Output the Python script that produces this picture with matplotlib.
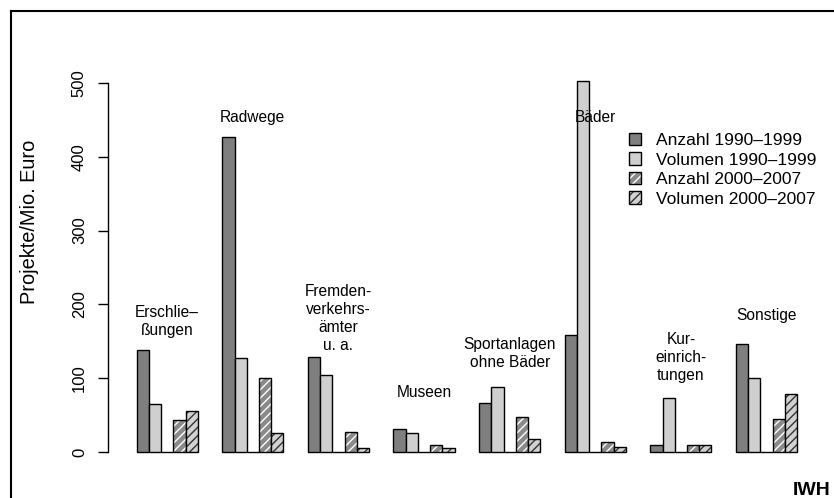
import numpy as np
import matplotlib
matplotlib.use("Agg")
import matplotlib.pyplot as plt
from matplotlib.lines import Line2D
from matplotlib.legend_handler import HandlerTuple

plt.rcParams['font.family'] = ['Liberation Sans', 'DejaVu Sans']
plt.rcParams['hatch.linewidth'] = 1.0

# Daten
kategorien = ["Erschlie\u2013\n\u00dfungen", "Radwege", "Fremden-\nverkehrs-\n\u00e4mter\nu. a.",
              "Museen", "Sportanlagen\nohne B\u00e4der", "B\u00e4der", "Kur-\neinrich-\ntungen", "Sonstige"]
anzahl_90 = [138, 427, 129, 31, 67, 158, 9, 146]
volumen_90 = [65, 128, 104, 26, 88, 503, 73, 100]
anzahl_00 = [44, 100, 27, 9, 47, 13, 9, 45]
volumen_00 = [56, 26, 6, 5, 17, 7, 10, 78]
reihen = ["Anzahl 1990\u20131999", "Volumen 1990\u20131999",
          "Anzahl 2000\u20132007", "Volumen 2000\u20132007"]

W, H = 834, 498
fig = plt.figure(figsize=(W / 100, H / 100), dpi=100)

# Plotbereich in Pixeln
px_l, px_r, px_t, px_b = 108, 820, 20, 470
ax = fig.add_axes([px_l / W, 1 - px_b / H, (px_r - px_l) / W, (px_b - px_t) / H])

unit = 12.23   # px pro Balken
x0 = 112.2     # px von x=0
ppu = 0.738    # px pro Einheit y
y0 = 452       # px von y=0
ax.set_xlim((px_l - x0) / unit, (px_r - x0) / unit)
ax.set_ylim(-(px_b - y0) / ppu, (y0 - px_t) / ppu)

n = len(kategorien)
start = 2 + 7 * np.arange(n)
kw = dict(width=1, align='edge')

b1 = ax.bar(start, anzahl_90, color='#7f7f7f', edgecolor='black', linewidth=1, **kw)
b2 = ax.bar(start + 1, volumen_90, color='#cfcfcf', edgecolor='black', linewidth=1, **kw)
ax.bar(start + 2, np.zeros(n), color='white', edgecolor='black', linewidth=1, **kw)

with plt.rc_context({'hatch.color': 'white'}):
    b3 = ax.bar(start + 3, anzahl_00, color='#8a8a8a', hatch='////', **kw)
o3 = ax.bar(start + 3, anzahl_00, fill=False, edgecolor='black', linewidth=1, **kw)
with plt.rc_context({'hatch.color': '#333333'}):
    b4 = ax.bar(start + 4, volumen_00, color='#d2d2d2', hatch='////', **kw)
o4 = ax.bar(start + 4, volumen_00, fill=False, edgecolor='black', linewidth=1, **kw)

# Beschriftung der Gruppen
label_y = [154, 443, 134, 70, 111, 443, 93, 175]
for xs, name, ly in zip(start, kategorien, label_y):
    ax.text(xs + 2.5, ly, name, ha='center', va='bottom', fontsize=11.2, linespacing=1.25)

# Achsen
for s in ['top', 'right', 'bottom']:
    ax.spines[s].set_visible(False)
ax.spines['left'].set_bounds(0, 500)
ax.spines['left'].set_linewidth(1)
ax.set_xticks([])
ax.set_yticks(np.arange(0, 501, 100))
ax.set_yticklabels([str(v) for v in range(0, 501, 100)], rotation=90, va='center', fontsize=12)
ax.tick_params(axis='y', length=7.2, width=1, pad=8)

fig.text(30 / W, 1 - 222 / H, "Projekte/Mio. Euro", rotation=90, ha='center', va='center', fontsize=14.4)

handles = [b1.patches[0], b2.patches[0], (b3.patches[0], o3.patches[0]), (b4.patches[0], o4.patches[0])]
fig.legend(handles, reihen, loc='upper left', bbox_to_anchor=(629 / W, 1 - 133 / H),
           frameon=False, fontsize=12.5, handlelength=0.7, handleheight=0.7,
           handletextpad=0.85, labelspacing=0.25, borderpad=0, borderaxespad=0,
           handler_map={tuple: HandlerTuple(ndivide=1, pad=0)})

fig.text(831 / W, 1 - 495 / H, "IWH", ha='right', va='baseline', fontweight='bold', fontsize=14)

# Rahmen (links und oben)
fig.add_artist(Line2D([11 / W, 11 / W], [0, 1 - 11 / H], transform=fig.transFigure, color='black', lw=1.5))
fig.add_artist(Line2D([11 / W, 1], [1 - 11 / H, 1 - 11 / H], transform=fig.transFigure, color='black', lw=1.5))

fig.savefig("out.png", dpi=100)
